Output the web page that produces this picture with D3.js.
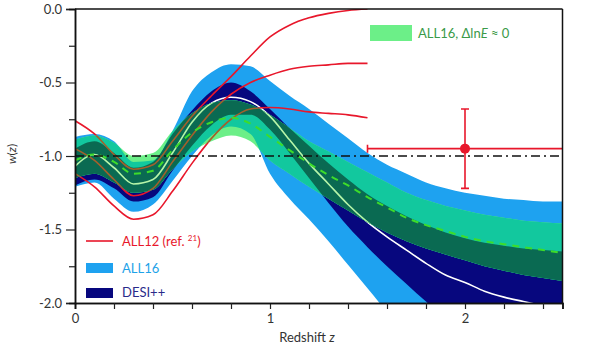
<!DOCTYPE html>
<html><head><meta charset="utf-8">
<script src="https://cdn.jsdelivr.net/npm/d3@7"></script>
<style>body{margin:0;background:#fff}svg{display:block;font-family:Lato,"Open Sans",sans-serif}</style>
</head><body>
<script>
// ---- data ----
const zGrid = [0,0.1,0.2,0.3,0.4,0.5,0.6,0.7,0.8,0.9,1.0,1.1,1.2,1.3,1.4,1.5,1.6,1.7,1.8,1.9,2.0,2.1,2.2,2.3,2.4,2.5];
const all16Upper = [-0.87,-0.85,-0.90,-1.04,-1.03,-0.83,-0.56,-0.43,-0.375,-0.39,-0.49,-0.59,-0.68,-0.78,-0.88,-0.98,-1.06,-1.12,-1.18,-1.22,-1.25,-1.27,-1.29,-1.30,-1.31,-1.31];
const all16Lower = [-1.21,-1.18,-1.29,-1.38,-1.33,-1.17,-1.00,-0.86,-0.80,-0.85,-1.12,-1.29,-1.43,-1.58,-1.74,-1.90,-2.06,-2.2,-2.35,-2.5,-2.6,-2.7,-2.8,-2.9,-3.0,-3.1];
const desiUpper = [-0.95,-0.90,-0.98,-1.08,-1.04,-0.85,-0.69,-0.56,-0.50,-0.56,-0.68,-0.81,-0.93,-1.05,-1.16,-1.26,-1.34,-1.41,-1.47,-1.52,-1.56,-1.59,-1.61,-1.63,-1.64,-1.65];
const desiLower = [-1.20,-1.16,-1.22,-1.31,-1.28,-1.10,-0.93,-0.79,-0.72,-0.72,-0.82,-0.98,-1.15,-1.32,-1.48,-1.62,-1.75,-1.87,-1.99,-2.1,-2.2,-2.3,-2.4,-2.5,-2.6,-2.7];
const desiMean = [-1.07,-0.99,-1.08,-1.19,-1.16,-0.98,-0.77,-0.64,-0.60,-0.63,-0.73,-0.89,-1.05,-1.19,-1.33,-1.45,-1.55,-1.64,-1.73,-1.81,-1.86,-1.92,-1.96,-1.99,-2.02,-2.05];
const lnEUpper = [-0.89,-0.86,-0.91,-1.00,-0.98,-0.83,-0.71,-0.64,-0.62,-0.65,-0.72,-0.81,-0.90,-0.97,-1.04,-1.11,-1.18,-1.25,-1.30,-1.34,-1.37,-1.40,-1.42,-1.44,-1.45,-1.46];
const lnELower = [-1.15,-1.12,-1.18,-1.25,-1.23,-1.09,-0.97,-0.90,-0.86,-0.90,-1.03,-1.12,-1.21,-1.29,-1.37,-1.45,-1.52,-1.58,-1.63,-1.67,-1.71,-1.75,-1.78,-1.81,-1.83,-1.85];
const lnEMean = [-1.03,-0.99,-1.04,-1.12,-1.10,-0.96,-0.84,-0.77,-0.74,-0.78,-0.87,-0.96,-1.05,-1.13,-1.20,-1.28,-1.35,-1.42,-1.47,-1.51,-1.55,-1.58,-1.60,-1.62,-1.64,-1.66];

const zAll12 = [0,0.1,0.2,0.3,0.4,0.5,0.6,0.7,0.8,0.9,1.0,1.1,1.2,1.3,1.4,1.5];
const all12Upper = [-0.76,-0.85,-0.99,-1.09,-1.06,-0.90,-0.73,-0.59,-0.46,-0.32,-0.19,-0.11,-0.06,-0.03,-0.01,0.0];
const all12Mean  = [-0.95,-1.03,-1.16,-1.27,-1.22,-1.04,-0.86,-0.70,-0.58,-0.50,-0.45,-0.41,-0.39,-0.38,-0.37,-0.37];
const all12Lower = [-1.12,-1.21,-1.34,-1.43,-1.40,-1.24,-1.05,-0.88,-0.75,-0.68,-0.67,-0.68,-0.70,-0.71,-0.72,-0.74];

const binZ = [2.0], binW = [-0.95], binWHi = [-0.68], binWLo = [-1.22], binZLo = [1.5], binZHi = [2.6];

const xMajor = [0,1,2];
const xMinor = [0.2,0.4,0.6,0.8,1.2,1.4,1.6,1.8,2.2,2.4];
const yMajor = [0,-0.5,-1.0,-1.5,-2.0];
const yMinor = [-0.25,-0.75,-1.25,-1.75];
const legendLabels = ["ALL12 (ref. ", "21", ")", "ALL16", "DESI++"];

// ---- setup ----
const W = 600, H = 348;
const L = 75, R = 562.5, T = 9, B = 303;
const x = d3.scaleLinear().domain([0,2.5]).range([L,R]);
const y = d3.scaleLinear().domain([-2,0]).range([B,T]);
const svg = d3.select("body").append("svg").attr("width",W).attr("height",H);
const defs = svg.append("defs");
defs.append("clipPath").attr("id","plot").append("rect").attr("x",L).attr("y",T).attr("width",R-L).attr("height",B-T);

const C = {blue:"#1ea2f0", navy:"#07077e", lgreen:"#6cef88", teal:"#12c89e", dgreen:"#0a6a52",
  red:"#e8172b", redT:"#a2602c", whiteT:"#b6f5a8", dash:"#3ddc2a"};

const band = (lo, hi, zs) => d3.area().curve(d3.curveMonotoneX)
  .x((d,i)=>x(zs[i])).y0((d,i)=>y(lo[i])).y1((d,i)=>y(hi[i]))(zs);
const lineP = (vals, zs) => d3.line().curve(d3.curveMonotoneX).x((d,i)=>x(zs[i])).y((d,i)=>y(vals[i]))(zs);

const blueD = band(all16Lower, all16Upper, zGrid);
const navyD = band(desiLower, desiUpper, zGrid);
const greenD = band(lnELower, lnEUpper, zGrid);
defs.append("clipPath").attr("id","cBlue").append("path").attr("d",blueD);
defs.append("clipPath").attr("id","cNavy").append("path").attr("d",navyD);
defs.append("clipPath").attr("id","cGreen").append("path").attr("d",greenD);

const g = svg.append("g").attr("clip-path","url(#plot)");
g.append("path").attr("d",blueD).attr("fill",C.blue);
g.append("path").attr("d",navyD).attr("fill",C.navy);

const whiteD = lineP(desiMean, zGrid);
const redDs = [all12Upper, all12Mean, all12Lower].map(v=>lineP(v, zAll12));
g.append("path").attr("d",whiteD).attr("fill","none").attr("stroke","#fff").attr("stroke-width",1.6);
redDs.forEach(d=>g.append("path").attr("d",d).attr("fill","none").attr("stroke",C.red).attr("stroke-width",1.6));

// green band with overlap colours
g.append("path").attr("d",greenD).attr("fill",C.lgreen);
g.append("g").attr("clip-path","url(#cBlue)").append("path").attr("d",greenD).attr("fill",C.teal);
g.append("g").attr("clip-path","url(#cNavy)").append("path").attr("d",greenD).attr("fill",C.dgreen);
const gt = g.append("g").attr("clip-path","url(#cGreen)");
gt.append("path").attr("d",whiteD).attr("fill","none").attr("stroke",C.whiteT).attr("stroke-width",1.6);
redDs.forEach(d=>gt.append("path").attr("d",d).attr("fill","none").attr("stroke",C.redT).attr("stroke-width",1.6));

g.append("path").attr("d",lineP(lnEMean, zGrid)).attr("fill","none").attr("stroke",C.dash)
  .attr("stroke-width",2).attr("stroke-dasharray","7,6");

// w = -1 reference
g.append("line").attr("x1",L).attr("x2",R).attr("y1",y(-1)).attr("y2",y(-1))
  .attr("stroke","#111").attr("stroke-width",1.5).attr("stroke-dasharray","9,4,2,4");

// high-z bin
binZ.forEach((z,i)=>{
  g.append("line").attr("x1",x(binZLo[i])).attr("x2",x(binZHi[i])).attr("y1",y(binW[i])).attr("y2",y(binW[i])).attr("stroke",C.red).attr("stroke-width",1.6);
  g.append("line").attr("x1",x(binZLo[i])).attr("x2",x(binZLo[i])).attr("y1",y(binW[i])-4).attr("y2",y(binW[i])+4).attr("stroke",C.red).attr("stroke-width",1.6);
  g.append("line").attr("x1",x(z)).attr("x2",x(z)).attr("y1",y(binWHi[i])).attr("y2",y(binWLo[i])).attr("stroke",C.red).attr("stroke-width",1.6);
  [binWHi[i],binWLo[i]].forEach(v=>g.append("line").attr("x1",x(z)-4).attr("x2",x(z)+4).attr("y1",y(v)).attr("y2",y(v)).attr("stroke",C.red).attr("stroke-width",1.6));
  g.append("circle").attr("cx",x(z)).attr("cy",y(binW[i])).attr("r",5).attr("fill",C.red);
});

// axes
svg.append("g").attr("transform",`translate(0,${B})`)
  .call(d3.axisBottom(x).tickValues(xMajor).tickFormat(d3.format("d")).tickSize(6).tickPadding(5));
svg.append("g").attr("transform",`translate(0,${B})`).call(d3.axisBottom(x).tickValues(xMinor).tickFormat("").tickSize(6));
svg.append("g").attr("transform",`translate(${L},0)`)
  .call(d3.axisLeft(y).tickValues(yMajor).tickFormat(d=>d3.format(".1f")(d).replace("−","-")).tickSize(9).tickPadding(4));
svg.append("g").attr("transform",`translate(${L},0)`).call(d3.axisLeft(y).tickValues(yMinor).tickFormat("").tickSize(6));
svg.selectAll(".domain").attr("stroke","#111").attr("stroke-width",1.5);
svg.selectAll(".tick line").attr("stroke","#222").attr("stroke-width",1.2);
svg.selectAll(".tick text").attr("font-size",13).attr("fill","#333").attr("font-family","Lato, 'Open Sans', sans-serif");
// frame top/right
svg.append("line").attr("x1",L).attr("x2",R).attr("y1",T).attr("y2",T).attr("stroke","#111").attr("stroke-width",1.5);
svg.append("line").attr("x1",R).attr("x2",R).attr("y1",T).attr("y2",B).attr("stroke","#111").attr("stroke-width",1.5);

// axis titles
const xt = svg.append("text").attr("x",307).attr("y",342).attr("text-anchor","middle").attr("font-size",13).attr("fill","#333");
xt.append("tspan").text("Redshift ");
xt.append("tspan").attr("font-style","italic").text("z");
const yt = svg.append("text").attr("transform","translate(16,154) rotate(-90)").attr("text-anchor","middle").attr("font-size",12).attr("fill","#333");
yt.append("tspan").attr("font-style","italic").text("w");
yt.append("tspan").text("(");
yt.append("tspan").attr("font-style","italic").text("z");
yt.append("tspan").text(")");

// legends
const lg = svg.append("g").attr("font-size",13);
lg.append("line").attr("x1",86).attr("x2",113).attr("y1",241).attr("y2",241).attr("stroke",C.red).attr("stroke-width",1.6);
const t1 = lg.append("text").attr("x",122).attr("y",246).attr("fill",C.red);
t1.append("tspan").text(legendLabels[0]);
t1.append("tspan").attr("font-size",8).attr("dy",-5).text(legendLabels[1]);
t1.append("tspan").attr("dy",5).text(legendLabels[2]);
lg.append("rect").attr("x",86).attr("y",263).attr("width",27).attr("height",10).attr("fill",C.blue);
lg.append("text").attr("x",122).attr("y",273).attr("fill","#1ea2e8").text(legendLabels[3]);
lg.append("rect").attr("x",86).attr("y",288).attr("width",27).attr("height",10).attr("fill",C.navy);
lg.append("text").attr("x",122).attr("y",297).attr("fill","#2a2a8a").text(legendLabels[4]);

lg.append("rect").attr("x",370).attr("y",25).attr("width",42).attr("height",16).attr("fill",C.lgreen);
const t2 = lg.append("text").attr("x",418).attr("y",38).attr("fill","#3a9a48");
t2.append("tspan").text("ALL16, \u0394ln");
t2.append("tspan").attr("font-style","italic").text("E");
t2.append("tspan").text(" \u2248 0");
</script>
</body></html>
